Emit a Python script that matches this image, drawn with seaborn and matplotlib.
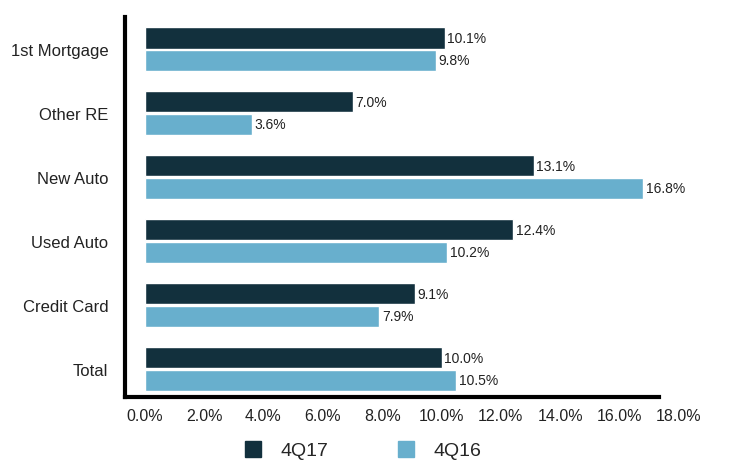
import pandas as pd
import seaborn as sns
import matplotlib.pyplot as plt
from matplotlib.lines import Line2D

# --- Datos ---
categories = ["1st Mortgage", "Other RE", "New Auto", "Used Auto", "Credit Card", "Total"]
series = ["4Q17", "4Q16"]
values_4q17 = [10.1, 7.0, 13.1, 12.4, 9.1, 10.0]
values_4q16 = [9.8, 3.6, 16.8, 10.2, 7.9, 10.5]
x_ticks = [0, 2, 4, 6, 8, 10, 12, 14, 16, 18]
colors = ["#12303d", "#68afcd"]

df = pd.DataFrame({
    "category": categories * 2,
    "series": [series[0]] * len(categories) + [series[1]] * len(categories),
    "value": values_4q17 + values_4q16,
})

sns.set_style("white")
plt.rcParams["font.family"] = ["Liberation Sans", "DejaVu Sans"]

fig = plt.figure(figsize=(7.3, 4.64), dpi=100)
ax = fig.add_axes([0.171, 0.142, 0.76, 0.819])

sns.barplot(data=df, y="category", x="value", hue="series", order=categories,
            hue_order=series, palette=colors, orient="h", width=0.7, gap=0.05,
            saturation=1, legend=False, ax=ax)

# etiquetas de valor al final de cada barra
for cont in ax.containers:
    ax.bar_label(cont, fmt="%.1f%%", padding=2, fontsize=10, color="#222222")

ax.set_xticks(x_ticks)
ax.set_xticklabels([f"{t:.1f}%" for t in x_ticks], fontsize=11.5)
ax.set_xlim(-0.67, 18.02)
ax.set_ylim(5.44, -0.5)
ax.tick_params(axis="x", length=0, pad=8, colors="#222222")
ax.tick_params(axis="y", direction="in", length=9, width=3, pad=12,
               labelsize=12, colors="black", labelcolor="#222222")
ax.set_xlabel("")
ax.set_ylabel("")

for s in ["top", "right"]:
    ax.spines[s].set_visible(False)
for s in ["left", "bottom"]:
    ax.spines[s].set_linewidth(3)
    ax.spines[s].set_color("black")
ax.spines["bottom"].set_bounds(-0.67, 17.33)

handles = [Line2D([], [], marker="s", linestyle="", markersize=11, color=c) for c in colors]
fig.legend(handles, series, loc="lower center", bbox_to_anchor=(0.49, -0.03), ncol=2,
           frameon=False, fontsize=14, handletextpad=0.4, columnspacing=3.0)

fig.savefig("out.png", dpi=100)
